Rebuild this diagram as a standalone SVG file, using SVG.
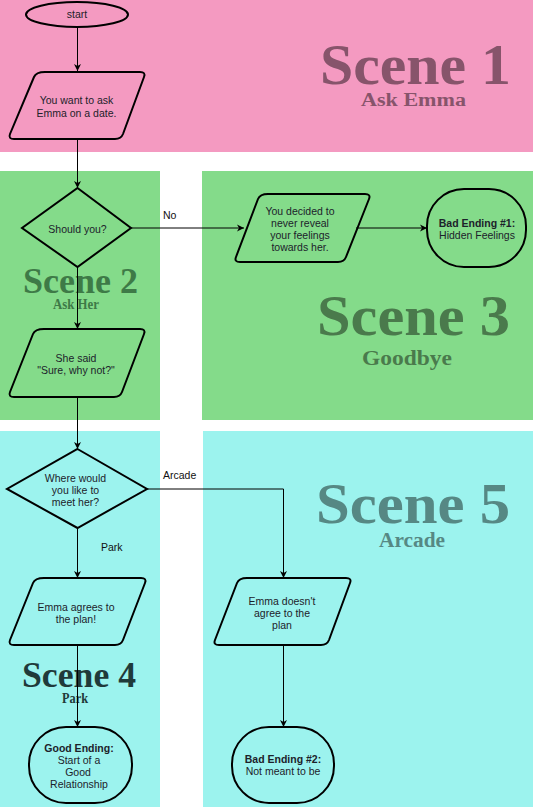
<svg xmlns="http://www.w3.org/2000/svg" width="533" height="807" viewBox="0 0 533 807">
<style>
.shape{fill:none;stroke:#000;stroke-width:2}
.t{font-family:"Liberation Sans",Arial,sans-serif;font-size:10.5px;fill:#1c222a;text-anchor:middle}
.b{font-weight:bold}
.lbl{font-family:"Liberation Sans",Arial,sans-serif;font-size:10.5px;fill:#111}
.big{font-family:"Liberation Serif","DejaVu Serif",serif;font-weight:bold;text-anchor:middle}
.conn{fill:none;stroke:#000;stroke-width:1}
</style>
<defs>
<marker id="ah" markerWidth="8" markerHeight="8" refX="7" refY="4" orient="auto" markerUnits="userSpaceOnUse">
<path d="M0,0.5 L7,4 L0,7.5 L2,4 Z" fill="#000"/>
</marker>
</defs>
<g id="backgrounds">
<rect x="0" y="0" width="533" height="152" fill="#f49ac1"/>
<rect x="0" y="171" width="160" height="249" fill="#84db8a"/>
<rect x="202" y="171" width="331" height="249" fill="#84db8a"/>
<rect x="0" y="431" width="160" height="376" fill="#9cf3ee"/>
<rect x="203" y="431" width="330" height="376" fill="#9cf3ee"/>
</g>
<g id="scene-labels">
<text class="big" x="415.5" y="84" font-size="56" fill="#87546b" textLength="191" lengthAdjust="spacingAndGlyphs">Scene 1</text>
<text class="big" x="413.5" y="106" font-size="18" fill="#87546b" textLength="105" lengthAdjust="spacingAndGlyphs">Ask Emma</text>
<text class="big" x="80.5" y="293" font-size="35" fill="#3e7a47" textLength="115" lengthAdjust="spacingAndGlyphs">Scene 2</text>
<text class="big" x="76" y="309" font-size="14" fill="#3e7a47" textLength="46" lengthAdjust="spacingAndGlyphs">Ask Her</text>
<text class="big" x="413.5" y="335" font-size="56" fill="#4a7a4c" textLength="193" lengthAdjust="spacingAndGlyphs">Scene 3</text>
<text class="big" x="407" y="365" font-size="20" fill="#4a7a4c" textLength="90" lengthAdjust="spacingAndGlyphs">Goodbye</text>
<text class="big" x="79" y="687" font-size="35" fill="#1f3a3a" textLength="114" lengthAdjust="spacingAndGlyphs">Scene 4</text>
<text class="big" x="75" y="703" font-size="14" fill="#1f3a3a" textLength="26" lengthAdjust="spacingAndGlyphs">Park</text>
<text class="big" x="413" y="523" font-size="56" fill="#568884" textLength="194" lengthAdjust="spacingAndGlyphs">Scene 5</text>
<text class="big" x="412" y="547" font-size="20" fill="#568884" textLength="66" lengthAdjust="spacingAndGlyphs">Arcade</text>
</g>
<g id="connectors">
<line class="conn" x1="77.5" y1="27" x2="77.5" y2="71" marker-end="url(#ah)"/>
<line class="conn" x1="77.5" y1="139" x2="77.5" y2="188" marker-end="url(#ah)"/>
<line class="conn" x1="131" y1="228" x2="244" y2="228" marker-end="url(#ah)"/>
<line class="conn" x1="356" y1="228" x2="427" y2="228" marker-end="url(#ah)"/>
<line class="conn" x1="77.5" y1="267" x2="77.5" y2="329" marker-end="url(#ah)"/>
<line class="conn" x1="77.5" y1="397" x2="77.5" y2="449" marker-end="url(#ah)"/>
<polyline class="conn" points="147,489 283.5,489 283.5,578" marker-end="url(#ah)"/>
<line class="conn" x1="77.5" y1="528" x2="77.5" y2="578" marker-end="url(#ah)"/>
<line class="conn" x1="77.5" y1="645" x2="77.5" y2="727" marker-end="url(#ah)"/>
<line class="conn" x1="283.5" y1="645" x2="283.5" y2="727" marker-end="url(#ah)"/>
<text class="lbl" x="163" y="219">No</text>
<text class="lbl" x="163" y="479">Arcade</text>
<text class="lbl" x="101" y="551">Park</text>
</g>
<g id="start">
<ellipse class="shape" cx="77" cy="14.5" rx="51" ry="12.5"/>
<text class="t" x="77" y="18">start</text>
</g>
<g id="ask-emma">
<path class="shape" d="M45,72 L140,72 Q146,72 144,77 L123,134 Q121,139 115,139 L14,139 Q8,139 10,134 L34,77 Q36,72 45,72 Z"/>
<text class="t" x="76.5" y="104">You want to ask</text>
<text class="t" x="76.5" y="116.5">Emma on a date.</text>
</g>
<g id="should-you">
<polygon class="shape" points="77.5,188 131,228 77.5,267 22,228"/>
<text class="t" x="77.5" y="233">Should you?</text>
</g>
<g id="never-reveal">
<path class="shape" d="M268,194 L365,194 Q371,194 369,199 L346,257 Q344,262 338,262 L240,262 Q234,262 236,257 L258,199 Q260,194 268,194 Z"/>
<text class="t" x="300" y="215">You decided to</text>
<text class="t" x="300" y="227">never reveal</text>
<text class="t" x="300" y="239">your feelings</text>
<text class="t" x="300" y="251">towards her.</text>
</g>
<g id="bad-ending-1">
<rect class="shape" x="427" y="189" width="99" height="78" rx="37" ry="37"/>
<text class="t b" x="477" y="227">Bad Ending #1:</text>
<text class="t" x="477" y="239">Hidden Feelings</text>
</g>
<g id="she-said">
<path class="shape" d="M44,329 L140,329 Q146,329 144,334 L122,392 Q120,397 114,397 L14,397 Q8,397 10,392 L33,334 Q35,329 44,329 Z"/>
<text class="t" x="76" y="362">She said</text>
<text class="t" x="76" y="374">"Sure, why not?"</text>
</g>
<g id="where-meet">
<polygon class="shape" points="77.5,449 147,489 77.5,528 7,489"/>
<text class="t" x="75.5" y="482">Where would</text>
<text class="t" x="75.5" y="494">you like to</text>
<text class="t" x="75.5" y="506">meet her?</text>
</g>
<g id="emma-agrees">
<path class="shape" d="M44,578 L141,578 Q147,578 145,583 L123,640 Q121,645 115,645 L14,645 Q8,645 10,640 L33,583 Q35,578 44,578 Z"/>
<text class="t" x="76" y="611">Emma agrees to</text>
<text class="t" x="76" y="623">the plan!</text>
</g>
<g id="emma-doesnt">
<path class="shape" d="M247,578 L346,578 Q352,578 350,583 L329,640 Q327,645 321,645 L219,645 Q213,645 215,640 L237,583 Q239,578 247,578 Z"/>
<text class="t" x="282" y="605">Emma doesn't</text>
<text class="t" x="282" y="617">agree to the</text>
<text class="t" x="282" y="629">plan</text>
</g>
<g id="good-ending">
<rect class="shape" x="29" y="727" width="103" height="76" rx="37" ry="37"/>
<text class="t b" x="79" y="751.5">Good Ending:</text>
<text class="t" x="79" y="763.5">Start of a</text>
<text class="t" x="78" y="775.5">Good</text>
<text class="t" x="79" y="787.5">Relationship</text>
</g>
<g id="bad-ending-2">
<rect class="shape" x="232" y="727" width="102" height="76" rx="37" ry="37"/>
<text class="t b" x="283" y="763">Bad Ending #2:</text>
<text class="t" x="283" y="775">Not meant to be</text>
</g>
</svg>
